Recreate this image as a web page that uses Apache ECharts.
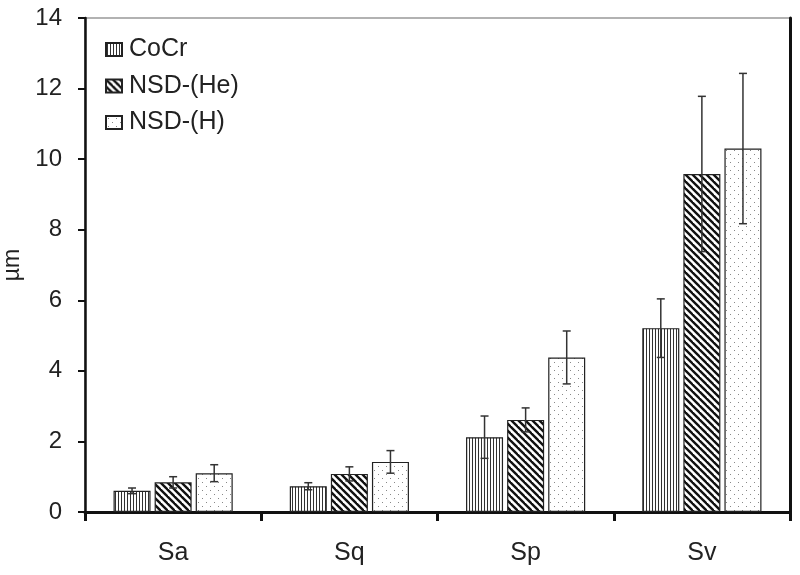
<!DOCTYPE html>
<html>
<head>
<meta charset="utf-8">
<script src="https://cdn.jsdelivr.net/npm/echarts@6/dist/echarts.min.js"></script>
<style>html,body{margin:0;padding:0;background:#fff;}#c{width:800px;height:575px;}</style>
</head>
<body>
<div id="c"></div>
<script>
const categories = ['Sa', 'Sq', 'Sp', 'Sv'];
const seriesNames = ['CoCr', 'NSD-(He)', 'NSD-(H)'];
const cocr = [0.60, 0.73, 2.12, 5.21];
const cocrErr = [0.08, 0.10, 0.60, 0.83];
const nsdHe = [0.84, 1.08, 2.61, 9.58];
const nsdHeErr = [0.16, 0.20, 0.34, 2.20];
const nsdH = [1.10, 1.42, 4.38, 10.30];
const nsdHErr = [0.24, 0.32, 0.75, 2.13];
const yTicks = [0, 2, 4, 6, 8, 10, 12, 14];

function makeTile(w, h, draw) {
  const c = document.createElement('canvas');
  c.width = w; c.height = h;
  const ctx = c.getContext('2d');
  ctx.fillStyle = '#fff';
  ctx.fillRect(0, 0, w, h);
  draw(ctx, w, h);
  return { image: c, repeat: 'repeat' };
}
const patVert = makeTile(3, 4, (ctx, w, h) => {
  ctx.fillStyle = '#333';
  ctx.fillRect(1, 0, 1, h);
});
const patDiag = makeTile(7, 7, (ctx, w, h) => {
  ctx.strokeStyle = '#111';
  ctx.lineWidth = 2.4;
  for (let o = -w; o <= w; o += w) {
    ctx.beginPath();
    ctx.moveTo(o - 1, -1);
    ctx.lineTo(o + w + 1, h + 1);
    ctx.stroke();
  }
});
const patDots = makeTile(8, 8, (ctx) => {
  ctx.fillStyle = '#888';
  ctx.fillRect(2, 2, 1, 1);
  ctx.fillRect(6, 6, 1, 1);
});
const patterns = [patVert, patDiag, patDots];
const values = [cocr, nsdHe, nsdH];
const errs = [cocrErr, nsdHeErr, nsdHErr];

const BAR_W = 0.21, GAP = 0.11;

const series = [];
for (let s = 0; s < 3; s++) {
  series.push({
    name: seriesNames[s],
    type: 'bar',
    data: values[s],
    barWidth: (BAR_W * 100) + '%',
    barGap: (GAP * 100) + '%',
    itemStyle: { color: patterns[s], borderColor: '#222', borderWidth: 1.2 },
    emphasis: { disabled: true },
    z: 2
  });
}
for (let s = 0; s < 3; s++) {
  series.push({
    name: seriesNames[s] + ' err',
    type: 'custom',
    z: 5,
    data: values[s].map((v, i) => [i, v, errs[s][i]]),
    renderItem: (function (idx) {
      return function (params, api) {
        const i = api.value(0), v = api.value(1), e = api.value(2);
        const w = api.size([1, 0])[0];
        const bw = w * BAR_W, gap = bw * GAP;
        const off = (idx - 1) * (bw + gap);
        const top = api.coord([i, v + e]);
        const bot = api.coord([i, v - e]);
        const x = top[0] + off;
        const st = { stroke: '#333', lineWidth: 1.5 };
        const cap = 4;
        return {
          type: 'group',
          children: [
            { type: 'line', shape: { x1: x, y1: top[1], x2: x, y2: bot[1] }, style: st },
            { type: 'line', shape: { x1: x - cap, y1: top[1], x2: x + cap, y2: top[1] }, style: st },
            { type: 'line', shape: { x1: x - cap, y1: bot[1], x2: x + cap, y2: bot[1] }, style: st }
          ]
        };
      };
    })(s)
  });
}

const font = 'Liberation Sans, Arial, sans-serif';
const chart = echarts.init(document.getElementById('c'), null, { renderer: 'canvas' });
chart.setOption({
  animation: false,
  backgroundColor: '#fff',
  textStyle: { fontFamily: font },
  grid: { left: 85, right: 10, top: 18, bottom: 63, containLabel: false, outerBoundsMode: 'none',
    show: true, borderColor: '#999', borderWidth: 1.5, backgroundColor: 'transparent' },
  legend: {
    data: seriesNames,
    orient: 'vertical',
    icon: 'rect',
    left: 100,
    top: 32,
    itemWidth: 16,
    itemHeight: 13,
    itemGap: 11.5,
    textStyle: { fontSize: 25, lineHeight: 25, color: '#222', fontFamily: font, padding: [0, 0, 0, 2] },
    selectedMode: false
  },
  xAxis: [{
    type: 'category',
    data: categories,
    axisLine: { lineStyle: { color: '#111', width: 3 } },
    axisTick: { show: true, length: 9, lineStyle: { color: '#111', width: 3 } },
    axisLabel: { fontSize: 25, color: '#222', margin: 29, fontFamily: font }
  }],
  yAxis: [{
    type: 'value',
    min: 0, max: 14, interval: 2,
    name: 'µm',
    nameLocation: 'middle',
    nameGap: 58,
    nameTextStyle: { fontSize: 23, color: '#222', fontFamily: font },
    axisLine: { show: true, lineStyle: { color: '#111', width: 2.5 } },
    axisTick: { show: true, length: 7, lineStyle: { color: '#111', width: 2 } },
    axisLabel: { fontSize: 24, color: '#222', margin: 23, fontFamily: font,
      formatter: v => yTicks.indexOf(v) >= 0 ? String(v) : '' },
    splitLine: { show: false }
  }, {
    type: 'value',
    position: 'right',
    min: 0, max: 14, interval: 2,
    axisLine: { show: true, lineStyle: { color: '#111', width: 3 } },
    axisTick: { show: false },
    axisLabel: { show: false },
    splitLine: { show: false }
  }],
  series: series
});
</script>
</body>
</html>
